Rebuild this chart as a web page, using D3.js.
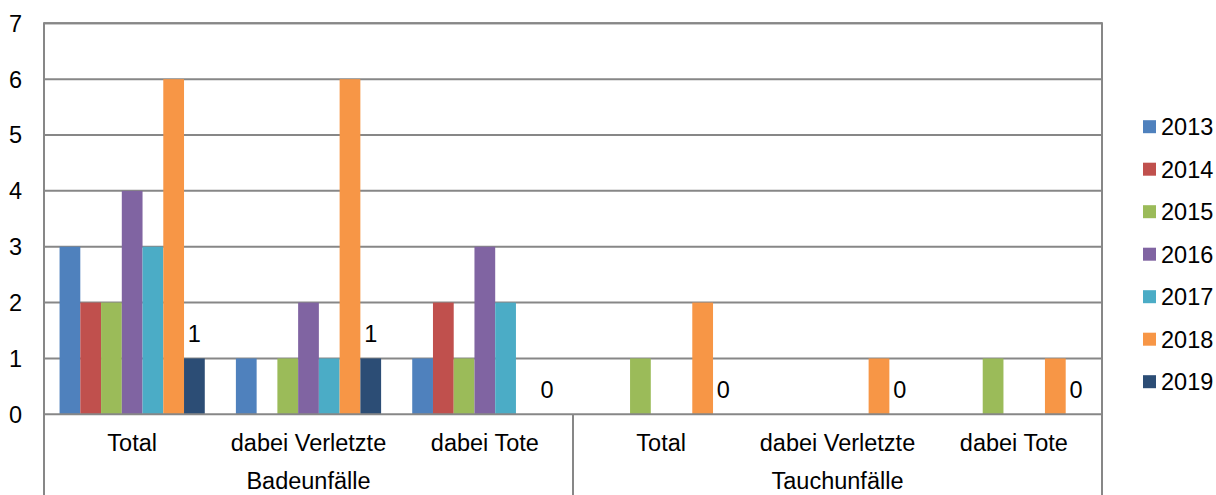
<!DOCTYPE html>
<html><head><meta charset="utf-8">
<script src="https://cdn.jsdelivr.net/npm/d3@7"></script>
<style>
html,body{margin:0;padding:0;background:#fff;}
svg text{font-family:"Liberation Sans",Arial,sans-serif;fill:#000;}
</style></head>
<body><svg id="c" width="1216" height="495"></svg>
<script>
const groups = ["Badeunfälle","Tauchunfälle"];
const subcats = ["Total","dabei Verletzte","dabei Tote"];
const years = ["2013","2014","2015","2016","2017","2018","2019"];
const colors = ["#4F81BD","#C0504D","#9BBB59","#8064A2","#4BACC6","#F79646","#2C4D75"];
// values per category (Bade Total, Bade Verletzte, Bade Tote, Tauch Total, Tauch Verletzte, Tauch Tote), per year
const v2013 = [3,1,1,null,null,null];
const v2014 = [2,null,2,null,null,null];
const v2015 = [2,1,1,1,null,1];
const v2016 = [4,2,3,null,null,null];
const v2017 = [3,1,2,null,null,null];
const v2018 = [6,6,null,2,1,1];
const v2019 = [1,1,0,0,0,0];
const series = [v2013,v2014,v2015,v2016,v2017,v2018,v2019];
const labeledSeries = "2019";
const yTicks = [0,1,2,3,4,5,6,7];

const FS = 23.5;
const svg = d3.select("#c");
const L = 44, R = 1102, T = 23.3, B = 414.3;
const cats = [];
groups.forEach(g => subcats.forEach(s => cats.push(g + "|" + s)));

const x0 = d3.scaleBand().domain(cats).range([L, R]).padding(0);
const x1 = d3.scaleBand().domain(years).range([0, x0.bandwidth()]).paddingInner(0).paddingOuter(0.75);
const y = d3.scaleLinear().domain([0, 7]).range([B, T]);
const grid = "#878787";

// gridlines
svg.append("g").selectAll("line").data(yTicks.filter(d => d > 0)).join("line")
  .attr("x1", L).attr("x2", R).attr("y1", d => y(d)).attr("y2", d => y(d))
  .attr("stroke", grid).attr("stroke-width", 2);

// y tick labels
svg.append("g").selectAll("text").data(yTicks).join("text")
  .attr("x", 22).attr("y", d => y(d)).attr("dy", "0.36em")
  .attr("text-anchor", "end").attr("font-size", FS).text(d => d);

// bars
const cg = svg.append("g").selectAll("g").data(cats).join("g")
  .attr("transform", d => `translate(${x0(d)},0)`);
cg.selectAll("rect").data((c, ci) => years.map((yr, si) => ({yr, si, v: series[si][ci]})).filter(d => d.v != null && d.v > 0))
  .join("rect")
  .attr("x", d => x1(d.yr)).attr("width", x1.bandwidth())
  .attr("y", d => y(d.v)).attr("height", d => y(0) - y(d.v))
  .attr("fill", d => colors[d.si]);

// data labels for 2019
const li = years.indexOf(labeledSeries);
cg.append("text")
  .attr("x", x1(labeledSeries) + x1.bandwidth() / 2)
  .attr("y", (c, ci) => y(series[li][ci]) - 16)
  .attr("text-anchor", "middle").attr("font-size", FS)
  .text((c, ci) => series[li][ci]);

// frame and axis lines
svg.append("line").attr("x1", L).attr("x2", R).attr("y1", T).attr("y2", T).attr("stroke", grid).attr("stroke-width", 2);
svg.append("line").attr("x1", L - 1).attr("x2", R + 1).attr("y1", B).attr("y2", B).attr("stroke", grid).attr("stroke-width", 2);
svg.append("line").attr("x1", L).attr("x2", L).attr("y1", T - 1).attr("y2", 495).attr("stroke", grid).attr("stroke-width", 2);
svg.append("line").attr("x1", R).attr("x2", R).attr("y1", T - 1).attr("y2", 495).attr("stroke", grid).attr("stroke-width", 2);
const gw = (R - L) / groups.length;
groups.slice(1).forEach((g, i) => {
  svg.append("line").attr("x1", L + gw * (i + 1)).attr("x2", L + gw * (i + 1)).attr("y1", B).attr("y2", 495)
    .attr("stroke", grid).attr("stroke-width", 2);
});

// category labels
svg.append("g").selectAll("text").data(cats).join("text")
  .attr("x", d => x0(d) + x0.bandwidth() / 2).attr("y", 451)
  .attr("text-anchor", "middle").attr("font-size", FS).text(d => d.split("|")[1]);
svg.append("g").selectAll("text").data(groups).join("text")
  .attr("x", (d, i) => L + gw * (i + 0.5)).attr("y", 489)
  .attr("text-anchor", "middle").attr("font-size", FS).text(d => d);

// legend
const lg = svg.append("g").selectAll("g").data(years).join("g")
  .attr("transform", (d, i) => `translate(1143,${126.7 + i * 42.5})`);
lg.append("rect").attr("x", 0).attr("y", -6.5).attr("width", 13).attr("height", 13).attr("fill", (d, i) => colors[i]);
lg.append("text").attr("x", 18).attr("y", 0).attr("dy", "0.36em").attr("font-size", FS).text(d => d);
</script></body></html>
